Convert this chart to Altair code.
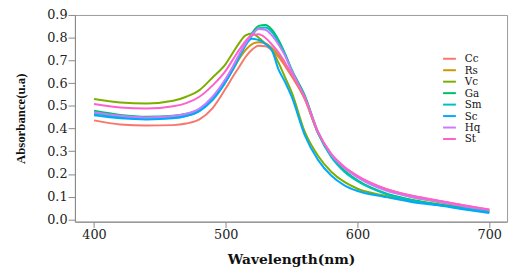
import altair as alt
import pandas as pd

wavelength = [400, 420, 440, 460, 470, 480, 490, 500, 505, 510, 515, 520, 525, 530, 535,
              540, 545, 550, 560, 570, 580, 590, 600, 620, 640, 660, 680, 700]

series_names = ["Cc", "Rs", "Vc", "Ga", "Sm", "Sc", "Hq", "St"]
series_colors = ["#F8766D", "#CD9600", "#7CAE00", "#00BE67", "#00BFC4", "#00A9FF", "#C77CFF", "#FF61CC"]

Cc = [.436, .418, .413, .415, .422, .440, .490, .577, .625, .670, .715, .748, .764, .762, .745,
      .715, .675, .630, .530, .380, .285, .228, .190, .137, .105, .083, .062, .043]
Rs = [.470, .455, .448, .452, .462, .482, .530, .608, .655, .705, .745, .772, .780, .775, .755,
      .725, .685, .635, .530, .380, .285, .228, .188, .133, .100, .078, .057, .040]
Vc = [.530, .515, .510, .522, .540, .569, .625, .685, .730, .775, .810, .818, .800, .775, .745,
      .690, .625, .560, .385, .280, .210, .165, .135, .105, .083, .066, .050, .035]
Ga = [.478, .460, .452, .456, .465, .484, .530, .610, .660, .715, .770, .820, .852, .856, .835,
      .790, .730, .660, .545, .385, .280, .215, .172, .118, .088, .068, .050, .034]
Sm = [.465, .450, .443, .447, .456, .477, .525, .605, .655, .710, .765, .810, .842, .845, .825,
      .780, .725, .655, .540, .380, .275, .210, .168, .115, .085, .065, .048, .032]
Sc = [.458, .445, .440, .445, .455, .478, .530, .610, .660, .720, .770, .795, .790, .772, .745,
      .660, .605, .540, .370, .262, .193, .150, .125, .100, .078, .063, .045, .028]
Hq = [.472, .456, .449, .455, .465, .488, .540, .620, .670, .725, .775, .815, .838, .835, .810,
      .770, .720, .655, .535, .385, .285, .226, .185, .130, .100, .080, .058, .041]
St = [.508, .493, .488, .498, .512, .540, .590, .655, .700, .745, .785, .812, .815, .800, .770,
      .735, .690, .640, .535, .385, .290, .232, .192, .138, .106, .085, .063, .044]

x_ticks = [400, 500, 600, 700]
y_ticks = [0.0, 0.1, 0.2, 0.3, 0.4, 0.5, 0.6, 0.7, 0.8, 0.9]

all_series = [Cc, Rs, Vc, Ga, Sm, Sc, Hq, St]
rows = []
for k, (name, vals) in enumerate(zip(series_names, all_series)):
    for w, v in zip(wavelength, vals):
        rows.append({"wavelength": w, "absorbance": v, "sample": name, "order": k})
df = pd.DataFrame(rows)
legend_df = pd.DataFrame({"sample": series_names})

color_scale = alt.Scale(domain=series_names, range=series_colors)

lines = alt.Chart(df).mark_line(strokeWidth=2, interpolate="monotone").encode(
    x=alt.X("wavelength:Q",
            scale=alt.Scale(domain=[385.5, 713.5], nice=False, zero=False),
            axis=alt.Axis(values=x_ticks, title="Wavelength(nm)", grid=False,
                          labelFont="DejaVu Serif", labelFontSize=13, labelColor="#222",
                          titleFont="DejaVu Serif", titleFontSize=14, titleFontWeight="bold",
                          titleColor="#111", titlePadding=12,
                          domainColor="#888", tickColor="#888", tickSize=6, labelPadding=1,
                          labelFlush=False)),
    y=alt.Y("absorbance:Q",
            scale=alt.Scale(domain=[-0.01, 0.9], nice=False, zero=False),
            axis=alt.Axis(values=y_ticks, format=".1f", title="Absorbance(u.a)", grid=False,
                          labelFont="DejaVu Serif", labelFontSize=13, labelColor="#222",
                          titleFont="Liberation Serif", titleFontSize=13, titleFontWeight="bold",
                          titleColor="#111", titlePadding=20,
                          domainColor="#888", tickColor="#888", tickSize=7, labelPadding=1,
                          labelFlush=False)),
    color=alt.Color("sample:N", scale=color_scale, legend=None),
    order=alt.Order("order:Q"),
    detail="sample:N",
)

legend_y = alt.Y("sample:N", scale=alt.Scale(type="point", domain=series_names,
                                             range=[44.5, 126], padding=0), axis=None)

legend_lines = alt.Chart(legend_df).mark_rule(strokeWidth=2).encode(
    x=alt.value(374), x2=alt.value(387), y=legend_y,
    color=alt.Color("sample:N", scale=color_scale, legend=None),
)

legend_text = alt.Chart(legend_df).mark_text(
    align="left", baseline="middle", font="DejaVu Serif", fontSize=10.5, color="#111", dy=0.5
).encode(
    x=alt.value(396), y=legend_y, text="sample:N",
)

chart = alt.layer(lines, legend_lines, legend_text).resolve_scale(y="independent").properties(
    width=439, height=210,
    autosize=alt.AutoSizeParams(type="none"),
    padding={"left": 68, "top": 5, "right": 4, "bottom": 46},
).configure_view(stroke="#999", strokeWidth=1)

chart.save("out.html", embed_options={"renderer": "svg", "actions": False})
